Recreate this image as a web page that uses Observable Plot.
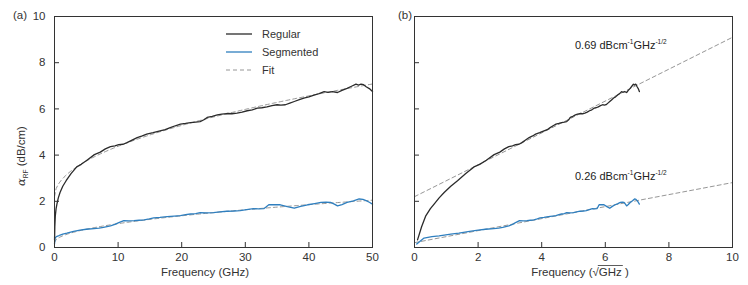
<!DOCTYPE html>
<html>
<head>
<meta charset="utf-8">
<script src="https://cdn.jsdelivr.net/npm/d3@7"></script>
<script src="https://cdn.jsdelivr.net/npm/@observablehq/plot@0.6"></script>
<style>
  html, body { margin: 0; padding: 0; background: #fff; }
  #wrap { position: relative; width: 748px; height: 285px; font-family: "Liberation Sans", Arial, sans-serif; color: #333; }
  .panel { position: absolute; top: 0; }
  .tag { position: absolute; font-size: 11.5px; color: #333; }
  .legend { position: absolute; left: 226px; top: 25px; font-size: 11px; color: #333; }
  .legend div { height: 18px; display: flex; align-items: center; }
  .legend svg { margin-right: 10px; }
  .ann { position: absolute; font-size: 11px; color: #222; white-space: nowrap; }
  .ann sup { font-size: 6.5px; vertical-align: 5px; }
</style>
</head>
<body>
<div id="wrap"></div>
<script>
// ---- data ----
const freqRegular = [0.009,0.05,0.126,0.25,0.38,0.6,0.87,1.3,1.83,2.6,3.5,4.2,5.1,6.27,7.2,8.0,8.8,9.5,10.1,10.8,11.4,12.2,13.0,13.8,14.5,15.5,16.6,17.4,18.2,19.0,19.8,20.6,21.4,22.2,22.9,23.5,24.0,24.8,25.6,26.3,27.1,27.9,28.7,29.5,30.3,31.1,31.9,32.6,33.4,34.2,35.0,35.6,36.3,37.0,37.7,38.5,39.2,40.0,40.8,41.6,42.4,43.0,43.7,44.5,45.2,46.0,46.7,47.4,47.8,48.2,48.6,49.0,49.5,50];
const alphaRegular = [0.33,0.9,1.37,1.68,1.88,2.15,2.38,2.65,2.89,3.2,3.49,3.6,3.78,4.02,4.13,4.27,4.37,4.40,4.45,4.47,4.54,4.65,4.76,4.83,4.91,4.97,5.05,5.1,5.19,5.27,5.34,5.37,5.41,5.43,5.45,5.53,5.63,5.68,5.74,5.77,5.80,5.79,5.82,5.86,5.92,5.96,6.03,6.05,6.09,6.14,6.18,6.16,6.18,6.25,6.32,6.4,6.47,6.52,6.6,6.66,6.75,6.72,6.75,6.71,6.8,6.89,6.98,7.07,7.03,7.07,7.05,6.96,6.88,6.75];
const freqSegmented = [0.005,0.09,0.3,0.6,0.87,1.3,1.95,3.0,4.0,5.0,6.2,7.0,7.7,8.8,9.5,10.1,10.9,11.7,12.5,13.3,14.1,14.9,15.6,16.6,17.7,18.8,19.8,20.6,21.4,22.2,22.9,24.0,25.0,26.0,27.1,28.2,29.2,30.2,31.3,32.1,32.9,33.3,33.7,34.6,35.5,36.6,37.7,38.7,39.8,40.9,41.9,42.7,43.4,44.0,44.5,45.2,46.0,47.0,47.9,48.5,49.0,49.5,50];
const alphaSegmented = [0.15,0.41,0.47,0.5,0.54,0.58,0.62,0.7,0.75,0.79,0.82,0.84,0.87,0.94,1.0,1.08,1.16,1.15,1.16,1.18,1.2,1.24,1.28,1.3,1.34,1.36,1.38,1.42,1.45,1.47,1.51,1.5,1.51,1.54,1.57,1.58,1.6,1.64,1.68,1.67,1.68,1.76,1.85,1.86,1.85,1.77,1.7,1.78,1.85,1.9,1.95,1.96,1.95,1.88,1.8,1.86,1.95,2.02,2.1,2.08,2.03,1.96,1.88];
// fit: alpha = intercept + slope * sqrt(f)
const seriesNames = ["Regular", "Segmented"];
const fitIntercept = [2.2, 0.21];
const fitSlope = [0.69, 0.26];
const seriesColors = ["#2b2b2b", "#2f7fbf"];
const xTicksA = [0, 10, 20, 30, 40, 50];
const xTicksB = [0, 2, 4, 6, 8, 10];
const yTicks = [0, 2, 4, 6, 8, 10];
const fitColor = "#8a8a8a";

const regular = freqRegular.map((f, i) => ({f, s: Math.sqrt(f), a: alphaRegular[i], series: "Regular"}));
const segmented = freqSegmented.map((f, i) => ({f, s: Math.sqrt(f), a: alphaSegmented[i], series: "Segmented"}));
// fit curves sampled on the x scale of each panel
const fitA = [], fitB = [];
seriesNames.forEach((name, k) => {
  d3.range(0, 50.001, 0.25).forEach(f => fitA.push({series: name, f, a: fitIntercept[k] + fitSlope[k] * Math.sqrt(f)}));
  [0, 10].forEach(s => fitB.push({series: name, s, a: fitIntercept[k] + fitSlope[k] * s}));
});

const FONT = "Liberation Sans, Arial, sans-serif";
function common(xKey, ticks, fitData, showYLabels, margins) {
  return Plot.plot({
    height: 285, ...margins,
    style: {fontFamily: FONT, fontSize: "11.5px", color: "#333", background: "transparent", overflow: "visible"},
    x: {domain: [ticks[0], ticks[ticks.length - 1]]},
    y: {domain: [0, 10]},
    marks: [
      Plot.line(fitData, {x: xKey, y: "a", z: "series", stroke: fitColor, strokeWidth: 0.9, strokeDasharray: "4,3"}),
      Plot.line(segmented, {x: xKey, y: "a", stroke: seriesColors[1], strokeWidth: 1.3}),
      Plot.line(regular, {x: xKey, y: "a", stroke: seriesColors[0], strokeWidth: 1.3}),
      Plot.frame({stroke: "#333", strokeWidth: 1}),
      Plot.axisX({ticks, tickSize: -5, tickPadding: 10, label: null, stroke: "#333"}),
      Plot.axisY({ticks: yTicks, tickSize: -5, tickPadding: 14, label: null, stroke: "#333",
                  tickFormat: showYLabels ? (d => d) : (() => "")})
    ]
  });
}

const wrap = document.getElementById("wrap");
const left = common("f", xTicksA, fitA, true, {width: 386, marginLeft: 54, marginRight: 14, marginTop: 16, marginBottom: 38});
left.classList.add("panel"); left.style.left = "0px";
const right = common("s", xTicksB, fitB, false, {width: 374, marginLeft: 40, marginRight: 16, marginTop: 16, marginBottom: 38});
right.classList.add("panel"); right.style.left = "374px";
wrap.appendChild(left); wrap.appendChild(right);

// axis titles with rich text
const ls = d3.select(left);
ls.append("text").attr("x", 205).attr("y", 276).attr("text-anchor", "middle")
  .attr("font-family", FONT).attr("font-size", "11.5px").attr("fill", "#333").text("Frequency (GHz)");
const yl = ls.append("text").attr("transform", "translate(25,156) rotate(-90)").attr("text-anchor", "middle")
  .attr("font-family", FONT).attr("font-size", "11.5px").attr("fill", "#333");
yl.append("tspan").attr("font-style", "italic").attr("font-family", "DejaVu Serif, serif").text("α");
yl.append("tspan").attr("font-size", "6.5px").attr("dy", 3).text("RF");
yl.append("tspan").attr("dy", -3).text(" (dB/cm)");

const rs = d3.select(right);
const rxl = rs.append("text").attr("x", 206).attr("y", 276).attr("text-anchor", "middle")
  .attr("font-family", FONT).attr("font-size", "11.5px").attr("fill", "#333");
rxl.append("tspan").text("Frequency (");
rxl.append("tspan").text("√");
const ghz = rxl.append("tspan").text("GHz");
rxl.append("tspan").text(" )");
// overline above GHz
try {
  const n = ghz.node();
  const start = n.getStartPositionOfChar(0), end = n.getEndPositionOfChar(2);
  rs.append("line").attr("x1", start.x - 1).attr("x2", end.x + 1)
    .attr("y1", 265.5).attr("y2", 265.5).attr("stroke", "#333").attr("stroke-width", 0.8);
} catch (e) {}

// panel tags
for (const [t, x] of [["(a)", 13], ["(b)", 398]]) {
  const d = document.createElement("div"); d.className = "tag"; d.textContent = t;
  d.style.left = x + "px"; d.style.top = "9px"; wrap.appendChild(d);
}

// legend
const leg = document.createElement("div"); leg.className = "legend";
const legItems = [["Regular", seriesColors[0], null], ["Segmented", seriesColors[1], null], ["Fit", fitColor, "4,3"]];
leg.innerHTML = legItems.map(([name, c, dash]) =>
  `<div><svg width="26" height="4"><line x1="0" x2="26" y1="2" y2="2" stroke="${c}" stroke-width="${dash ? 0.9 : 1.3}" ${dash ? `stroke-dasharray="${dash}"` : ""}/></svg>${name}</div>`).join("");
wrap.appendChild(leg);

// slope annotations
const slopeTexts = [[fitSlope[0], 575, 38], [fitSlope[1], 575, 169]];
for (const [v, x, y] of slopeTexts) {
  const d = document.createElement("div"); d.className = "ann";
  d.innerHTML = `${v.toFixed(2)} dBcm<sup>-1</sup>GHz<sup>-1/2</sup>`;
  d.style.left = x + "px"; d.style.top = y + "px"; wrap.appendChild(d);
}
</script>
</body>
</html>
